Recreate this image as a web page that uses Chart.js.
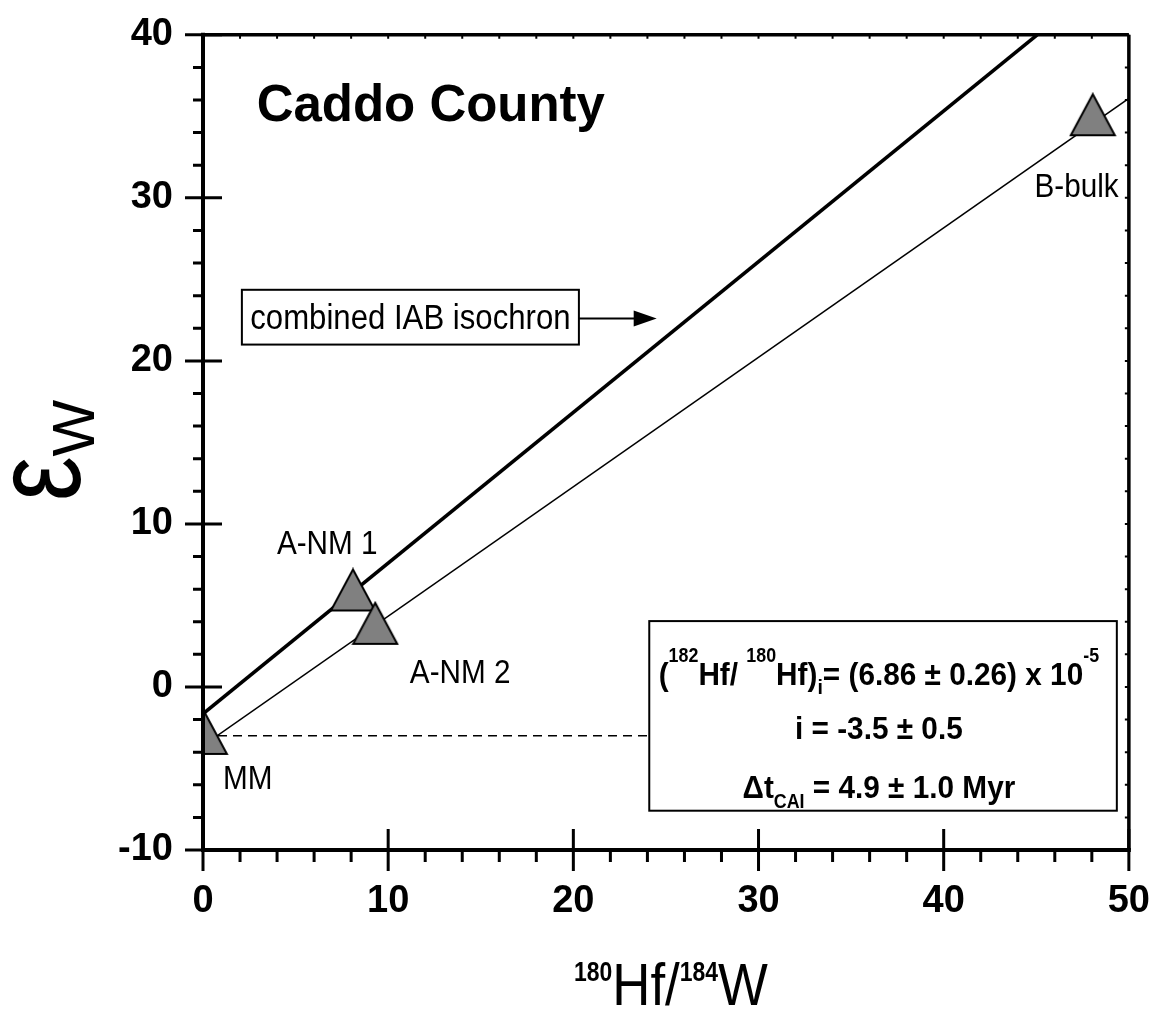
<!DOCTYPE html>
<html>
<head>
<meta charset="utf-8">
<title>Caddo County</title>
<script src="https://cdn.jsdelivr.net/npm/chart.js@4.4.1/dist/chart.umd.min.js"></script>
<style>
  body { margin: 0; background: #fff; }
  canvas { display: block; }
</style>
</head>
<body>
<canvas id="grafico" width="1158" height="1009"></canvas>
<script>
// amostras: 180Hf/184W e epsilon W
const amostras = ['MM', 'A-NM 1', 'A-NM 2', 'B-bulk']
const hfW = [0.1, 8.1, 9.3, 48.05]
const epsW = [-2.85, 5.95, 3.9, 35.1]

// isocronas (pontas)
const iabX = [0, 45.05]
const iabY = [-1.65, 40]
const caddoX = [0, 50]
const caddoY = [-3.6, 36.1]

// linha tracejada do valor inicial
const inicialX = [0, 24.1]
const inicialY = [-3, -3]

const xTicks = [0, 10, 20, 30, 40, 50]
const yTicks = [-10, 0, 10, 20, 30, 40]

// posicoes dos rotulos (em unidades dos eixos)
const rotuloX = [1.08, 3.99, 11.17, 44.9]
const rotuloY = [-6.24, 8.14, 0.24, 30.05]

const FAM = '"Liberation Sans", Arial, sans-serif'

const juntar = (xs, ys) => xs.map((x, i) => ({ x: x, y: ys[i] }))

function marcador() {
    const w = 44, h = 41
    const c = document.createElement('canvas')
    c.width = w + 4
    c.height = h + 4
    const g = c.getContext('2d')
    g.beginPath()
    g.moveTo(c.width / 2, 2)
    g.lineTo(w + 2, h + 2)
    g.lineTo(2, h + 2)
    g.closePath()
    g.fillStyle = '#808080'
    g.fill()
    g.lineWidth = 2
    g.strokeStyle = '#000'
    g.stroke()
    return c
}

// texto com partes (sobrescrito / subscrito)
// partes: [texto, fonte, dy, escalaX]
function texto(ctx, x, y, partes, alinhar) {
    ctx.save()
    ctx.fillStyle = '#000'
    ctx.textBaseline = 'alphabetic'
    ctx.textAlign = 'left'
    const larg = partes.map(p => {
        ctx.font = p[1]
        return ctx.measureText(p[0]).width * (p[3] || 1)
    })
    const total = larg.reduce((a, b) => a + b, 0)
    let cx = alinhar === 'center' ? x - total / 2 : x
    partes.forEach((p, i) => {
        ctx.save()
        ctx.font = p[1]
        ctx.translate(cx, y + (p[2] || 0))
        ctx.scale(p[3] || 1, 1)
        ctx.fillText(p[0], 0, 0)
        ctx.restore()
        cx += larg[i]
    })
    ctx.restore()
}

const anotacoes = {
    id: 'anotacoes',
    afterDatasetsDraw(chart) {
        const ctx = chart.ctx
        const xs = chart.scales.x
        const ys = chart.scales.y
        const px = v => xs.getPixelForValue(v)
        const py = v => ys.getPixelForValue(v)

        // titulo
        texto(ctx, px(2.9), py(34.7), [['Caddo County', 'bold 52px ' + FAM, 0, 0.98]])

        // rotulos das amostras
        amostras.forEach((a, i) => {
            texto(ctx, px(rotuloX[i]), py(rotuloY[i]), [[a, '33px ' + FAM, 0, 0.9]])
        })

        // caixa "combined IAB isochron" + seta
        ctx.save()
        ctx.fillStyle = '#fff'
        ctx.strokeStyle = '#000'
        ctx.lineWidth = 2
        let x1 = px(2.1), x2 = px(20.3), y1 = py(24.36), y2 = py(21.0)
        ctx.fillRect(x1, y1, x2 - x1, y2 - y1)
        ctx.strokeRect(x1, y1, x2 - x1, y2 - y1)
        const ya = py(22.6)
        const xp = px(24.5)
        ctx.beginPath()
        ctx.moveTo(x2, ya)
        ctx.lineTo(xp - 20, ya)
        ctx.stroke()
        ctx.beginPath()
        ctx.moveTo(xp, ya)
        ctx.lineTo(xp - 23, ya - 8)
        ctx.lineTo(xp - 23, ya + 8)
        ctx.closePath()
        ctx.fillStyle = '#000'
        ctx.fill()
        ctx.restore()
        texto(ctx, (x1 + x2) / 2, py(21.95), [['combined IAB isochron', '35px ' + FAM, 0, 0.89]], 'center')

        // caixa da formula
        ctx.save()
        ctx.fillStyle = '#fff'
        ctx.strokeStyle = '#000'
        ctx.lineWidth = 2
        x1 = px(24.1); x2 = px(49.35); y1 = py(4.04); y2 = py(-7.59)
        ctx.fillRect(x1, y1, x2 - x1, y2 - y1)
        ctx.strokeRect(x1, y1, x2 - x1, y2 - y1)
        ctx.restore()
        const B = 'bold 32px ' + FAM
        const S = 'bold 21px ' + FAM
        const k = 0.93
        const cx = px(36.5)
        texto(ctx, cx, py(0.12), [
            ['(', B, 0, k], ['182', S, -23, 0.85], ['Hf/ ', B, 0, k], ['180', S, -23, 0.85],
            ['Hf)', B, 0, k], ['i', S, 9, k], ['= (6.86 ± 0.26) x 10', B, 0, k], ['-5', S, -23, 0.85]
        ], 'center')
        texto(ctx, cx, py(-3.18), [['i = -3.5 ± 0.5', B, 0, k]], 'center')
        texto(ctx, cx, py(-6.79), [
            ['Δt', B, 0, k], ['CAI', S, 10, 0.85], [' = 4.9 ± 1.0 Myr', B, 0, k]
        ], 'center')
    },
    afterDraw(chart) {
        const ctx = chart.ctx
        const xs = chart.scales.x
        const ys = chart.scales.y
        const { left, right, top, bottom } = chart.chartArea
        ctx.save()
        ctx.strokeStyle = '#000'
        ctx.lineCap = 'butt'

        // ticks menores (passo 2) e maiores
        ctx.lineWidth = 3
        ctx.beginPath()
        for (let v = 0; v <= 50; v += 2) {
            const p = xs.getPixelForValue(v)
            if (xTicks.includes(v)) {
                ctx.moveTo(p, bottom - 21); ctx.lineTo(p, bottom + 21)
            } else {
                ctx.moveTo(p, bottom); ctx.lineTo(p, bottom + 12)
            }
        }
        for (let v = -10; v <= 40; v += 2) {
            const p = ys.getPixelForValue(v)
            if (yTicks.includes(v)) {
                ctx.moveTo(left - 18, p); ctx.lineTo(left + 19, p)
            } else {
                ctx.moveTo(left - 10, p); ctx.lineTo(left, p)
            }
        }
        ctx.stroke()

        ctx.lineWidth = 2
        ctx.beginPath()
        for (let v = 0; v <= 50; v += 2) {
            const p = xs.getPixelForValue(v)
            ctx.moveTo(p, top); ctx.lineTo(p, top + 4)
        }
        for (let v = -10; v <= 40; v += 2) {
            const p = ys.getPixelForValue(v)
            ctx.moveTo(right, p); ctx.lineTo(right - 4, p)
        }
        ctx.stroke()

        // moldura
        ctx.lineWidth = 4
        ctx.beginPath()
        ctx.moveTo(left, top - 2); ctx.lineTo(left, bottom + 2)
        ctx.moveTo(left - 2, bottom); ctx.lineTo(right + 2, bottom)
        ctx.stroke()
        ctx.lineWidth = 3.5
        ctx.beginPath()
        ctx.moveTo(right, top); ctx.lineTo(right, bottom)
        ctx.moveTo(left, top); ctx.lineTo(right, top)
        ctx.stroke()
        ctx.restore()

        // titulos dos eixos
        texto(ctx, (left + right) / 2 + 5, 1005, [
            ['180', 'bold 27px ' + FAM, -24, 0.85], ['Hf/', '60px ' + FAM, 0, 0.88],
            ['184', 'bold 27px ' + FAM, -24, 0.85], ['W', '60px ' + FAM, 0, 0.88]
        ], 'center')
        ctx.save()
        ctx.translate(80, (top + bottom) / 2 + 8)
        ctx.rotate(-Math.PI / 2)
        texto(ctx, 0, 0, [['ε', '125px ' + FAM, 0, 0.8], ['W', '60px ' + FAM, 14, 1]], 'center')
        ctx.restore()
    }
}

const ctx = document.getElementById('grafico').getContext('2d')

const grafico = new Chart(ctx, {
    type: 'scatter',
    data: {
        datasets: [
            {
                label: 'amostras',
                data: juntar(hfW, epsW),
                pointStyle: marcador(),
                pointRadius: 22,
                clip: 0,
                order: 0
            },
            {
                label: 'combined IAB isochron',
                data: juntar(iabX, iabY),
                showLine: true,
                borderColor: '#000',
                borderWidth: 3.5,
                pointRadius: 0,
                order: 1
            },
            {
                label: 'Caddo County',
                data: juntar(caddoX, caddoY),
                showLine: true,
                borderColor: '#000',
                borderWidth: 1.5,
                pointRadius: 0,
                order: 2
            },
            {
                label: 'inicial',
                data: juntar(inicialX, inicialY),
                showLine: true,
                borderColor: '#000',
                borderWidth: 1.5,
                borderDash: [9, 6],
                pointRadius: 0,
                order: 3
            }
        ]
    },
    options: {
        responsive: false,
        animation: false,
        devicePixelRatio: 1,
        layout: { padding: { top: 33, right: 28, left: 0, bottom: 0 } },
        plugins: {
            legend: { display: false },
            tooltip: { enabled: false }
        },
        scales: {
            x: {
                type: 'linear',
                min: 0,
                max: 50,
                afterBuildTicks: s => { s.ticks = xTicks.map(v => ({ value: v })) },
                afterFit: s => { s.height = 159 },
                grid: { display: false, drawTicks: true, tickLength: 21 },
                border: { display: false },
                ticks: {
                    color: '#000',
                    padding: 8,
                    maxRotation: 0,
                    font: { family: 'Liberation Sans', size: 38, weight: 'bold' }
                }
            },
            y: {
                type: 'linear',
                min: -10,
                max: 40,
                afterBuildTicks: s => { s.ticks = yTicks.map(v => ({ value: v })) },
                afterFit: s => { s.width = 203 },
                grid: { display: false, drawTicks: true, tickLength: 18 },
                border: { display: false },
                ticks: {
                    color: '#000',
                    padding: 12,
                    font: { family: 'Liberation Sans', size: 38, weight: 'bold' }
                }
            }
        }
    },
    plugins: [anotacoes]
})
</script>
</body>
</html>
